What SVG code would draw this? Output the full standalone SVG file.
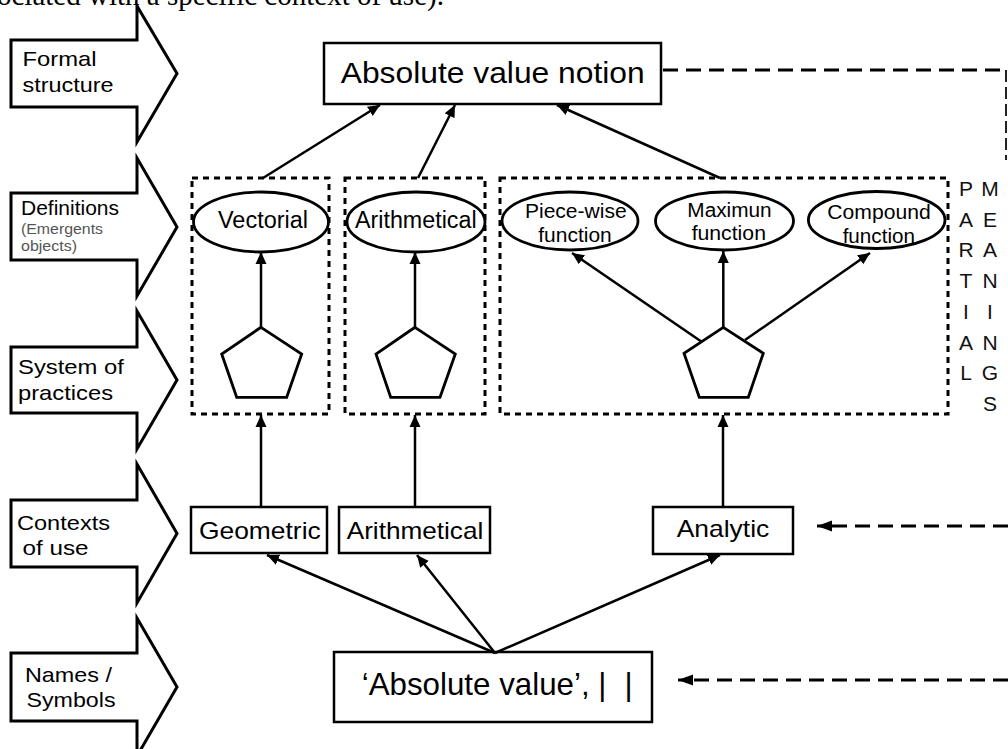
<svg xmlns="http://www.w3.org/2000/svg" width="1008" height="749" viewBox="0 0 1008 749">
<style>
  text { font-family: "Liberation Sans", Arial, Helvetica, sans-serif; fill: #000; }
  .blk { fill: #fff; stroke: #000; stroke-width: 3; stroke-linejoin: miter; }
  .box { fill: #fff; stroke: #000; stroke-width: 2.5; }
  .ell { fill: #fff; stroke: #000; stroke-width: 2.8; }
  .pent { fill: #fff; stroke: #000; stroke-width: 2.8; stroke-linejoin: miter; }
  .dot { fill: none; stroke: #000; stroke-width: 3; stroke-dasharray: 6 5; }
  .con { stroke: #000; stroke-width: 2.5; fill: none; }
  .dash { stroke: #000; stroke-width: 3; stroke-dasharray: 15 8; fill: none; }
  .vdash { stroke: #222; stroke-width: 2; stroke-dasharray: 12 5; fill: none; }
  .lbl { font-size: 21px; }
  .sub { font-size: 15px; fill: #555; }
  .ctx { font-size: 24px; }
  .big { font-size: 30px; }
  .def { font-size: 23px; text-anchor: middle; }
  .fn { font-size: 20px; text-anchor: middle; }
  .pm { font-size: 21px; text-anchor: middle; fill: #111; }
</style>
<defs>
  <marker id="ah" viewBox="0 0 12 12" refX="12" refY="6" markerWidth="12" markerHeight="12" markerUnits="userSpaceOnUse" orient="auto">
    <path d="M0,0.5 L12,6 L0,11.5 Z" fill="#000"/>
  </marker>
  <marker id="ahd" viewBox="0 0 15 12" refX="15" refY="6" markerWidth="15" markerHeight="12" markerUnits="userSpaceOnUse" orient="auto">
    <path d="M0,0.5 L15,6 L0,11.5 Z" fill="#000"/>
  </marker>
</defs>
<rect x="0" y="0" width="1008" height="749" fill="#fff"/>

<text x="-3" y="5" style="font-family:'Liberation Serif','Times New Roman',serif" font-size="29">ociated with a specific context of use).</text>

<g id="level-formal-structure">
  <path class="blk" d="M11,40 L137,40 L137,6 L177,73.5 L137,142 L137,107 L11,107 Z"/>
  <text class="lbl" x="22.5" y="66" textLength="74" lengthAdjust="spacingAndGlyphs">Formal</text>
  <text class="lbl" x="22.5" y="92" textLength="91" lengthAdjust="spacingAndGlyphs">structure</text>
</g>
<g id="level-definitions">
  <path class="blk" d="M11,193 L137,193 L137,158 L177,227 L137,296 L137,260 L11,260 Z"/>
  <text class="lbl" x="21" y="215" textLength="98" lengthAdjust="spacingAndGlyphs">Definitions</text>
  <text class="sub" x="21" y="234" textLength="82" lengthAdjust="spacingAndGlyphs">(Emergents</text>
  <text class="sub" x="21" y="251" textLength="56" lengthAdjust="spacingAndGlyphs">objects)</text>
</g>
<g id="level-system-of-practices">
  <path class="blk" d="M11,347 L137,347 L137,311 L177,380 L137,449 L137,413 L11,413 Z"/>
  <text class="lbl" x="18" y="374" textLength="106" lengthAdjust="spacingAndGlyphs">System of</text>
  <text class="lbl" x="18" y="400" textLength="95" lengthAdjust="spacingAndGlyphs">practices</text>
</g>
<g id="level-contexts-of-use">
  <path class="blk" d="M11,500 L137,500 L137,464 L177,533.5 L137,603 L137,567 L11,567 Z"/>
  <text class="lbl" x="17" y="530" textLength="93" lengthAdjust="spacingAndGlyphs">Contexts</text>
  <text class="lbl" x="22.5" y="555" textLength="66" lengthAdjust="spacingAndGlyphs">of use</text>
</g>
<g id="level-names-symbols">
  <path class="blk" d="M11,653 L137,653 L137,618 L177,687 L137,756 L137,721 L11,721 Z"/>
  <text class="lbl" x="25" y="682" textLength="87" lengthAdjust="spacingAndGlyphs">Names /</text>
  <text class="lbl" x="26.5" y="707" textLength="89" lengthAdjust="spacingAndGlyphs">Symbols</text>
</g>

<g id="group-vectorial">
  <rect class="dot" x="192" y="178" width="137" height="236"/>
</g>
<g id="group-arithmetical">
  <rect class="dot" x="345" y="178" width="140" height="236"/>
</g>
<g id="group-analytic">
  <rect class="dot" x="500" y="178" width="448" height="236"/>
</g>

<g id="absolute-value-notion">
  <rect class="box" x="324" y="43" width="337" height="61"/>
  <text class="big" x="340.7" y="83" textLength="304" lengthAdjust="spacingAndGlyphs">Absolute value notion</text>
</g>

<g id="def-vectorial">
  <ellipse class="ell" cx="261" cy="222" rx="67.5" ry="30"/>
  <text class="def" x="263" y="228" textLength="90" lengthAdjust="spacingAndGlyphs">Vectorial</text>
</g>
<g id="def-arithmetical">
  <ellipse class="ell" cx="416" cy="222" rx="69" ry="30"/>
  <text class="def" x="415.8" y="228" textLength="121.7" lengthAdjust="spacingAndGlyphs">Arithmetical</text>
</g>
<g id="def-piecewise">
  <ellipse class="ell" cx="570" cy="221" rx="68" ry="29"/>
  <text class="fn" x="575.8" y="218" textLength="101.7" lengthAdjust="spacingAndGlyphs">Piece-wise</text>
  <text class="fn" x="575" y="241.7" textLength="73.4" lengthAdjust="spacingAndGlyphs">function</text>
</g>
<g id="def-maximun">
  <ellipse class="ell" cx="724.5" cy="221" rx="69" ry="29"/>
  <text class="fn" x="729.5" y="216.7" textLength="84.3" lengthAdjust="spacingAndGlyphs">Maximun</text>
  <text class="fn" x="728.8" y="240" textLength="74.3" lengthAdjust="spacingAndGlyphs">function</text>
</g>
<g id="def-compound">
  <ellipse class="ell" cx="876.7" cy="220" rx="68.3" ry="28.5"/>
  <text class="fn" x="879" y="219.3" textLength="103.3" lengthAdjust="spacingAndGlyphs">Compound</text>
  <text class="fn" x="878.8" y="243.3" textLength="72.3" lengthAdjust="spacingAndGlyphs">function</text>
</g>

<g id="practice-vectorial">
  <polygon class="pent" points="261,327.3 301.7,354 286.7,397.3 236.7,397.3 221.7,354"/>
</g>
<g id="practice-arithmetical">
  <polygon class="pent" points="415,327.3 455.3,354 440,397.3 390.7,397.3 376,354"/>
</g>
<g id="practice-analytic">
  <polygon class="pent" points="723.3,327.3 763.3,353.3 748.3,397.3 699.3,397.3 684,353.3"/>
</g>

<g id="ctx-geometric">
  <rect class="box" x="191" y="507" width="136" height="46"/>
  <text class="ctx" x="199" y="539" textLength="121.7" lengthAdjust="spacingAndGlyphs">Geometric</text>
</g>
<g id="ctx-arithmetical">
  <rect class="box" x="339" y="507" width="151" height="46"/>
  <text class="ctx" x="346.7" y="539" textLength="136.6" lengthAdjust="spacingAndGlyphs">Arithmetical</text>
</g>
<g id="ctx-analytic">
  <rect class="box" x="653" y="507" width="140" height="47"/>
  <text class="ctx" x="676.7" y="537" textLength="92.6" lengthAdjust="spacingAndGlyphs">Analytic</text>
</g>

<g id="name-symbol">
  <rect class="box" x="334" y="652" width="318" height="70"/>
  <text x="361.7" y="695" font-size="31.3">‘Absolute value’, |<tspan x="624.5">|</tspan></text>
</g>

<g id="partial-meanings">
  <text class="pm" x="966" y="196">P</text>
  <text class="pm" x="966" y="226.7">A</text>
  <text class="pm" x="966" y="257.4">R</text>
  <text class="pm" x="966" y="288.1">T</text>
  <text class="pm" x="966" y="318.8">I</text>
  <text class="pm" x="966" y="349.5">A</text>
  <text class="pm" x="966" y="380.2">L</text>
  <text class="pm" x="990" y="196">M</text>
  <text class="pm" x="990" y="226.7">E</text>
  <text class="pm" x="990" y="257.4">A</text>
  <text class="pm" x="990" y="288.1">N</text>
  <text class="pm" x="990" y="318.8">I</text>
  <text class="pm" x="990" y="349.5">N</text>
  <text class="pm" x="990" y="380.2">G</text>
  <text class="pm" x="990" y="410.9">S</text>
</g>

<g id="connectors">
  <line class="con" x1="263" y1="178" x2="380" y2="105" marker-end="url(#ah)"/>
  <line class="con" x1="418" y1="178" x2="455" y2="105" marker-end="url(#ah)"/>
  <line class="con" x1="720" y1="178" x2="557" y2="105" marker-end="url(#ah)"/>
  <line class="con" x1="261" y1="327" x2="261" y2="252" marker-end="url(#ah)"/>
  <line class="con" x1="415" y1="327" x2="415" y2="252" marker-end="url(#ah)"/>
  <line class="con" x1="723.3" y1="327" x2="723.3" y2="251" marker-end="url(#ah)"/>
  <line class="con" x1="702" y1="342" x2="572" y2="253" marker-end="url(#ah)"/>
  <line class="con" x1="745" y1="340" x2="870" y2="253" marker-end="url(#ah)"/>
  <line class="con" x1="261" y1="507" x2="261" y2="415" marker-end="url(#ah)"/>
  <line class="con" x1="415" y1="507" x2="415" y2="415" marker-end="url(#ah)"/>
  <line class="con" x1="723" y1="507" x2="723" y2="415" marker-end="url(#ah)"/>
  <line class="con" x1="495" y1="653" x2="267" y2="555" marker-end="url(#ah)"/>
  <line class="con" x1="495" y1="653" x2="417" y2="555" marker-end="url(#ah)"/>
  <line class="con" x1="495" y1="653" x2="720" y2="555" marker-end="url(#ah)"/>
  <line class="dash" x1="663" y1="70" x2="1006" y2="70"/>
  <line class="vdash" x1="1006" y1="70" x2="1006" y2="160"/>
  <line class="dash" x1="1008" y1="526" x2="817" y2="526" marker-end="url(#ahd)"/>
  <line class="dash" x1="1008" y1="680" x2="678" y2="680" marker-end="url(#ahd)"/>
</g>
</svg>
